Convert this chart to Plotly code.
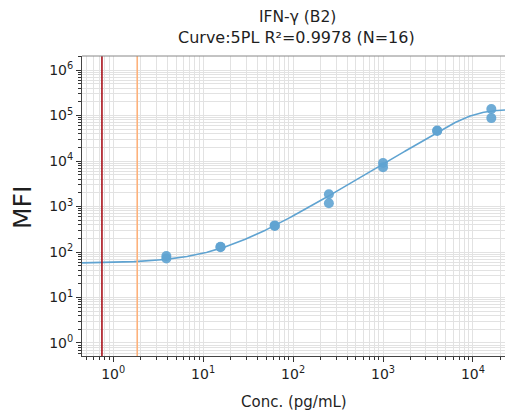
import numpy as np
import plotly.graph_objects as go

# ---- data ----
conc = [3.9, 3.9, 15.6, 15.6, 62.5, 62.5, 250, 250, 1000, 1000, 4000, 4000, 16000, 16000]
mfi = [72, 82, 128, 131, 375, 385, 1870, 1180, 9100, 7300, 47000, 46000, 139000, 88000]
lod_line = 0.75      # dark red vertical line
lloq_line = 1.85     # orange vertical line
x_ticks = [1, 10, 100, 1000, 10000]
x_ticklabels = ["10<sup>0</sup>", "10<sup>1</sup>", "10<sup>2</sup>", "10<sup>3</sup>", "10<sup>4</sup>"]
y_ticks = [1, 10, 100, 1000, 1e4, 1e5, 1e6]
y_ticklabels = ["10<sup>%d</sup>" % i for i in range(7)]
title_line1 = "IFN-γ (B2)"
title_line2 = "Curve:5PL R²=0.9978 (N=16)"
x_title = "Conc. (pg/mL)"
y_title = "MFI"

# 5PL parameters (fitted to the reference curve):  y = a + (d - a) / (1 + (c / x)^b)^g
p5_a = 10 ** 1.7545
p5_d = 10 ** 5.1337
p5_c = 10 ** 4.0231
p5_b = 3.3008
p5_g = 10 ** -0.4479

x_range = (0.45, 22700)
y_range_log = (-0.286, 6.31)


def five_pl(x):
    return p5_a + (p5_d - p5_a) / (1 + (p5_c / x) ** p5_b) ** p5_g


xc = np.logspace(np.log10(x_range[0]), np.log10(x_range[1]), 400)
yc = five_pl(xc)

blue = "#5fa3d1"
font = "DejaVu Sans"
txtc = "#1f1f1f"

fig = go.Figure()
fig.add_trace(go.Scatter(x=xc, y=yc, mode="lines", line=dict(color=blue, width=1.6),
                         hoverinfo="skip", showlegend=False))
fig.add_trace(go.Scatter(x=conc, y=mfi, mode="markers",
                         marker=dict(color=blue, size=10, opacity=0.9, line=dict(width=0)),
                         showlegend=False))

fig.add_shape(type="line", xref="x", yref="paper", x0=lod_line, x1=lod_line, y0=0, y1=1,
              line=dict(color="#a8111b", width=1.6))
fig.add_shape(type="line", xref="x", yref="paper", x0=lloq_line, x1=lloq_line, y0=0, y1=1,
              line=dict(color="#fdb27c", width=1.6))
fig.add_shape(type="line", xref="paper", yref="paper", x0=0, x1=1, y0=1, y1=1,
              line=dict(color="#888888", width=1))

L, R, T, B = 82, 0, 56, 56
W, H = 505, 412
pw, ph = W - L - R, H - T - B


def px2paper_x(px):
    return (px - L) / pw


def px2paper_y(py):
    return (H - B - py) / ph


fig.add_annotation(text=title_line1, xref="paper", yref="paper",
                   x=px2paper_x(297), y=px2paper_y(17), showarrow=False,
                   xanchor="center", yanchor="middle", font=dict(size=15.5, family=font, color=txtc))
fig.add_annotation(text=title_line2, xref="paper", yref="paper",
                   x=px2paper_x(296), y=px2paper_y(37), showarrow=False,
                   xanchor="center", yanchor="middle", font=dict(size=16, family=font, color=txtc))
fig.add_annotation(text=x_title, xref="paper", yref="paper",
                   x=px2paper_x(294), y=px2paper_y(402), showarrow=False,
                   xanchor="center", yanchor="middle", font=dict(size=15, family=font, color=txtc))
fig.add_annotation(text=y_title, xref="paper", yref="paper", textangle=-90,
                   x=px2paper_x(22), y=px2paper_y(207), showarrow=False,
                   xanchor="center", yanchor="middle", font=dict(size=25, family=font, color=txtc))

grid = "#e2e2e2"
fig.update_layout(
    width=W, height=H,
    margin=dict(l=L, r=R, t=T, b=B),
    paper_bgcolor="white", plot_bgcolor="white",
    font=dict(family=font, color=txtc, size=13),
    showlegend=False,
)
common = dict(
    type="log", tickmode="array",
    ticks="outside", ticklen=5, tickwidth=1, tickcolor="#333333",
    showgrid=True, gridcolor=grid, gridwidth=1,
    showline=True, linecolor="#444444", linewidth=1, mirror=False,
    minor=dict(ticks="outside", ticklen=3, tickcolor="#333333", dtick="D1",
               showgrid=True, gridcolor=grid, gridwidth=1),
    tickfont=dict(size=14, family=font, color=txtc),
    zeroline=False,
)
fig.update_xaxes(range=[np.log10(x_range[0]), np.log10(x_range[1])],
                 tickvals=x_ticks, ticktext=x_ticklabels, **common)
fig.update_yaxes(range=list(y_range_log), tickvals=y_ticks, ticktext=y_ticklabels, **common)

fig.write_html("out.html")
